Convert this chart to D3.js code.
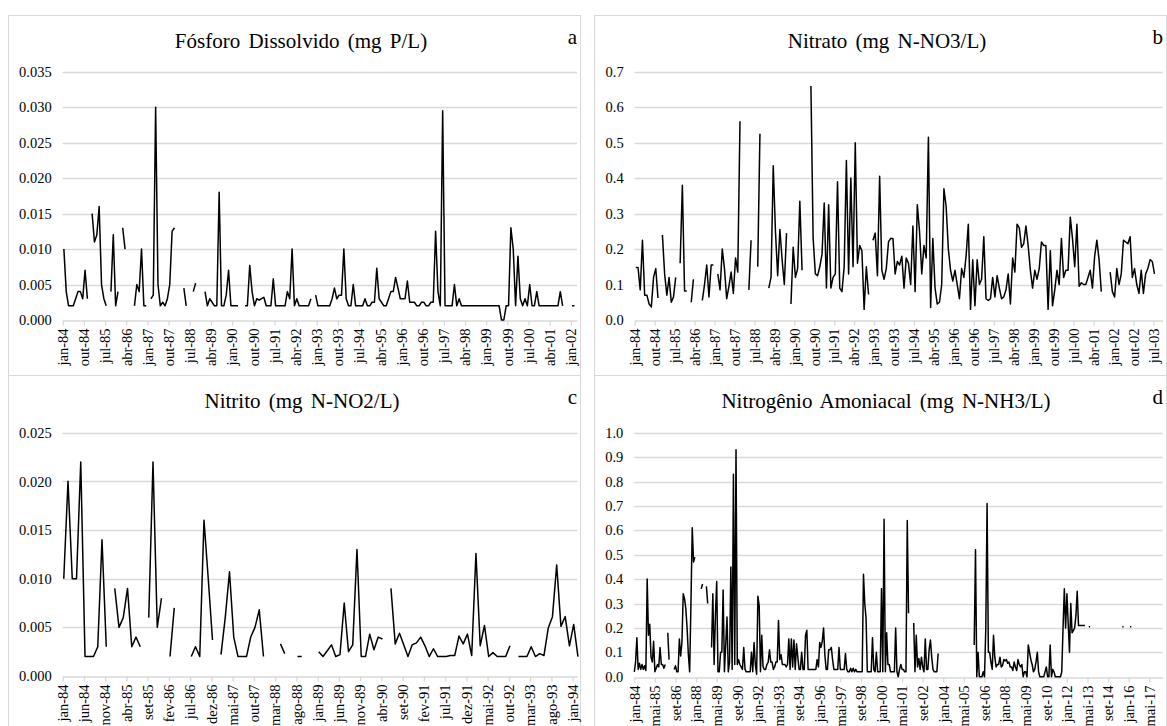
<!DOCTYPE html>
<html lang="pt">
<head>
<meta charset="UTF-8">
<title>Fósforo e Nitrogênio</title>
<script src="https://d3js.org/d3.v7.min.js"></script>
<style>
  body { margin: 0; background: #fff; }
  svg { display: block; }
  svg text { font-family: "Liberation Serif", "Times New Roman", serif; }
</style>
</head>
<body>
<svg width="1167" height="726"></svg>
<script>
// monthly values starting jan-84, null = no sample
const fosforo = [
  0.010,0.004,0.002,0.002,0.002,0.003,0.004,0.004,0.003,0.007,
  0.003,null,0.015,0.011,0.012,0.016,0.005,0.003,0.002,null,
  0.004,0.012,0.002,0.004,null,0.013,0.010,null,null,null,
  0.002,0.005,0.004,0.010,0.002,0.002,null,0.003,0.0035,0.030,
  0.005,0.002,0.0025,0.002,0.003,0.005,0.0125,0.013,null,null,
  null,0.0045,0.002,null,null,0.004,0.0052,null,null,null,
  0.004,0.002,0.003,0.0025,0.002,0.002,0.018,0.002,0.002,0.0035,
  0.007,0.002,0.002,0.002,0.002,null,null,0.002,0.002,0.0077,
  0.004,0.002,0.003,0.0028,0.003,0.0032,0.002,0.002,0.002,0.0058,
  0.002,0.002,0.002,0.002,0.002,0.004,0.003,0.010,0.002,0.003,
  0.002,0.002,0.002,0.002,0.002,0.003,null,0.0035,0.002,0.002,
  0.002,0.002,0.002,0.002,0.003,0.0045,0.003,0.0035,0.0035,0.010,
  0.003,0.002,0.002,0.005,0.002,0.002,0.002,0.002,0.003,0.002,
  0.002,0.0025,0.0025,0.0073,0.003,0.0025,0.002,0.002,0.003,0.004,
  0.004,0.006,0.0045,0.003,0.003,0.003,0.0055,0.0025,0.0025,0.0025,
  0.002,0.002,0.0025,0.0025,0.002,0.002,0.0025,0.0025,0.0125,0.004,
  0.002,0.0295,0.002,0.002,0.002,0.002,0.005,0.002,0.003,0.002,
  0.002,0.002,0.002,0.002,0.002,0.002,0.002,0.002,0.002,0.002,
  0.002,0.002,0.002,0.002,0.002,0.002,0,0,0.002,0.002,
  0.013,0.010,0.002,0.009,0.003,0.002,0.003,0.002,0.005,0.002,
  0.002,0.004,0.002,0.002,0.002,0.002,0.002,0.002,0.002,0.002,
  0.002,0.004,0.002,null,null,null,0.002,0.002
];

const nitrato = [
  0.148,0.148,0.085,0.225,0.07,0.07,0.045,0.037,0.12,0.145,
  0.062,null,0.24,0.13,0.07,0.12,0.05,0.065,0.12,null,
  0.16,0.38,0.082,0.082,null,0.05,0.115,null,null,null,
  0.055,0.1,0.155,0.065,0.155,0.155,null,0.13,0.085,0.2,
  0.145,0.06,0.095,0.135,0.075,0.175,0.135,0.56,null,null,
  null,0.085,0.225,null,null,0.15,0.525,null,null,null,
  0.09,0.12,0.435,0.25,0.125,0.255,0.17,0.1,0.245,null,
  0.045,0.205,0.12,0.145,0.335,0.14,null,null,null,0.66,
  0.23,0.13,0.125,0.15,0.185,0.33,0.09,0.325,0.09,0.12,
  0.13,0.39,0.09,0.08,0.15,0.45,0.13,0.4,0.15,0.5,
  0.16,0.21,0.195,0.03,0.15,0.072,null,0.225,0.245,0.125,
  0.405,0.14,0.115,0.145,0.22,0.23,0.23,0.13,0.165,0.155,
  0.18,0.09,0.175,0.16,0.1,0.265,0.08,0.325,0.25,0.13,
  0.21,0.175,0.515,0.035,0.23,0.09,0.045,0.05,0.1,0.37,
  0.32,0.2,0.14,0.11,0.14,0.1,0.06,0.145,0.12,0.18,
  0.27,0.03,0.17,0.04,0.17,0.1,0.115,0.235,0.06,0.055,
  0.06,0.12,0.065,0.125,0.09,0.06,0.065,0.085,0.13,0.045,
  0.175,0.135,0.27,0.26,0.205,0.215,0.265,0.21,0.14,0.09,
  0.14,0.115,0.145,0.22,0.21,0.21,0.03,0.195,0.04,0.085,
  0.14,0.1,0.23,0.12,0.14,0.14,0.29,0.23,0.15,0.27,
  0.095,0.105,0.1,0.1,0.12,0.14,0.09,0.18,0.225,0.17,
  0.08,null,null,null,0.135,0.08,0.065,0.145,0.1,0.13,
  0.225,0.22,0.215,0.235,0.12,0.145,0.1,0.075,0.14,0.075,
  0.13,0.145,0.17,0.165,0.13
];

const nitrito = [
  0.010,0.020,0.010,0.010,0.022,0.002,0.002,0.002,0.003,0.014,
  0.003,null,0.009,0.005,0.006,0.009,0.003,0.004,0.003,null,
  0.006,0.022,0.005,0.008,null,0.002,0.007,null,null,null,
  0.002,0.003,0.002,0.016,0.010,0.0037,null,0.0022,0.006,0.0107,
  0.004,0.002,0.002,0.002,0.004,0.005,0.0068,0.002,null,null,
  null,0.0033,0.0023,null,null,0.002,0.002,null,null,null,
  0.0025,0.002,0.0026,0.0032,0.002,0.0022,0.0075,0.0025,0.0032,0.013,
  0.002,0.002,0.0043,0.0027,0.004,0.0038,null,0.009,0.0033,0.0044,
  0.0032,0.002,0.0032,0.0034,0.004,0.0031,0.002,0.0028,0.002,0.002,
  0.002,0.0021,0.0021,0.0041,0.0033,0.0043,0.0021,0.0126,0.0031,0.0052,
  0.002,0.0024,0.002,0.002,0.002,0.0031,null,0.002,0.002,0.002,
  0.003,0.002,0.0023,0.0021,0.0049,0.0061,0.0114,0.0051,0.0061,0.0031,
  0.0053,0.002
];

const amoniacal = [
  0.02,0.06,0.16,0.03,0.055,0.03,0.05,0.03,0.045,0.025,
  0.4,0.17,0.215,0.08,0.06,0.145,0.02,0.035,0.05,0.04,
  0.12,0.05,0.05,0.035,0.05,null,0.18,0.07,null,null,
  null,0.03,0.045,0.02,0.02,0.155,0.085,0.14,0.34,0.32,
  0.28,0.2,0.09,0.02,0.3,0.61,0.47,0.49,null,null,
  null,null,0.36,0.38,null,null,0.37,0.3,null,null,
  0.12,0.34,0.05,0.25,0.39,0.02,0.02,0.1,0.1,0.355,
  0.02,0.13,0.245,0.02,0.06,0.45,0.03,0.83,0.05,0.93,
  0.05,0.07,0.05,0.04,0.03,0.12,0.03,0.02,0.02,0.02,
  0.02,0.1,0.02,0.14,0.05,0.01,0.33,0.29,0.02,0.17,
  0.04,0.03,0.03,0.05,0.06,0.11,0.06,0.06,0.03,0.04,
  0.06,0.06,0.23,0.07,0.09,0.05,0.05,0.05,0.04,0.05,
  0.155,0.03,0.155,0.04,0.15,0.03,0.135,0.08,0.03,0.03,
  0.1,0.03,0.03,0.17,0.19,0.03,0.03,0.03,0.03,0.03,
  0.03,0.03,0.07,0.04,0.14,0.12,0.145,0.2,0.09,0.03,
  0.03,0.11,0.11,0.12,0.07,0.03,0.03,0.03,0.03,0.12,
  0.03,0.03,0.03,0.03,0.095,0.03,0.02,0.02,0.035,0.02,
  0.035,0.02,0.03,0.02,0.02,0.02,0.02,0.02,0.42,0.3,
  0.24,0.02,0.02,0.02,0.02,0.16,0.03,0.02,0.1,0.02,
  0.02,0.02,0.36,0.02,0.645,0.02,0.18,0.05,0.05,0.02,
  0.02,0.02,0.02,0.2,0.02,0,0.03,0.05,0.03,0.03,
  0.02,0.02,0.64,0.26,null,null,null,0.22,0.02,0.17,
  0.04,0.075,0.03,0.08,0.04,0.02,0.155,0.03,0.03,0.11,
  0.15,0.08,0.03,0.02,0.02,0.02,0.095,null,null,null,
  null,null,null,null,null,null,null,null,null,null,
  null,null,null,null,null,null,null,null,null,null,
  null,null,null,null,0.13,0.52,0,0.1,0,0,
  0,0.02,0,0.2,0.71,0.1,0.1,0.06,0.03,0.17,
  0.08,0.04,0.05,0.05,0.08,0.04,0.045,0.07,0.065,0.07,
  0.055,0.06,0.04,0.04,0.025,0.06,0.04,0.025,0.07,0.05,
  0.04,0.05,0,0.02,0.02,0,0.13,0.1,0.07,0.05,
  0.02,0.03,0.06,0.1,0.02,0,0,0,0,0.02,
  0.04,0,0,0.13,0,0.03,0.02,0,0,0,
  0,0,0.02,0.2,0.36,0.2,0.34,0.22,0.1,0.3,
  0.18,0.19,0.2,0.25,0.35,0.21,0.21,0.21,0.21,0.21,
  0.21,null,null,0.205,0.205,null,null,null,null,null,
  null,null,null,null,null,null,null,null,null,null,
  null,null,null,null,null,null,null,null,null,0.205,
  0.205,null,null,null,null,0.205,0.205
];

// tick labels (one every 9, 9, 5 and 16 months)
const ticksFosforo = ["jan-84","out-84","jul-85","abr-86","jan-87","out-87","jul-88","abr-89","jan-90","out-90","jul-91","abr-92","jan-93","out-93","jul-94","abr-95","jan-96","out-96","jul-97","abr-98","jan-99","out-99","jul-00","abr-01","jan-02"];
const ticksNitrato = ["jan-84","out-84","jul-85","abr-86","jan-87","out-87","jul-88","abr-89","jan-90","out-90","jul-91","abr-92","jan-93","out-93","jul-94","abr-95","jan-96","out-96","jul-97","abr-98","jan-99","out-99","jul-00","abr-01","jan-02","out-02","jul-03"];
const ticksNitrito = ["jan-84","jun-84","nov-84","abr-85","set-85","fev-86","jul-86","dez-86","mai-87","out-87","mar-88","ago-88","jan-89","jun-89","nov-89","abr-90","set-90","fev-91","jul-91","dez-91","mai-92","out-92","mar-93","ago-93","jan-94"];
const ticksAmoniacal = ["jan-84","mai-85","set-86","jan-88","mai-89","set-90","jan-92","mai-93","set-94","jan-96","mai-97","set-98","jan-00","mai-01","set-02","jan-04","mai-05","set-06","jan-08","mai-09","set-10","jan-12","mai-13","set-14","jan-16","mai-17"];

const yFosforo = [0, 0.005, 0.010, 0.015, 0.020, 0.025, 0.030, 0.035];
const yNitrato = [0, 0.1, 0.2, 0.3, 0.4, 0.5, 0.6, 0.7];
const yNitrito = [0, 0.005, 0.010, 0.015, 0.020, 0.025];
const yAmoniacal = [0, 0.1, 0.2, 0.3, 0.4, 0.5, 0.6, 0.7, 0.8, 0.9, 1.0];

const panels = [
  { title: "Fósforo Dissolvido (mg P/L)", letter: "a", data: fosforo, xLabels: ticksFosforo, step: 9, yTicks: yFosforo, fmt: ".3f",
    box: [8, 15, 580, 375], left: 62.7, right: 577, top: 71.7, bottom: 320, xMax: 218.6, offset: 0.5, titleX: 301, titleY: 48, letterY: 44 },
  { title: "Nitrato (mg N-NO3/L)", letter: "b", data: nitrato, xLabels: ticksNitrato, step: 9, yTicks: yNitrato, fmt: ".1f",
    box: [594, 15, 1166, 375], left: 634.7, right: 1162.7, top: 71.7, bottom: 320, xMax: 238.2, offset: 0.5, titleX: 887, titleY: 48, letterY: 44 },
  { title: "Nitrito (mg N-NO2/L)", letter: "c", data: nitrito, xLabels: ticksNitrito, step: 5, yTicks: yNitrito, fmt: ".3f",
    box: [8, 375, 580, 730], left: 62.7, right: 577.3, top: 432.7, bottom: 676, xMax: 121.1, offset: 0.25, titleX: 302, titleY: 408, letterY: 404 },
  { title: "Nitrogênio Amoniacal (mg N-NH3/L)", letter: "d", data: amoniacal, xLabels: ticksAmoniacal, step: 16, yTicks: yAmoniacal, fmt: ".1f",
    box: [594, 375, 1166, 730], left: 634.3, right: 1162.7, top: 432.7, bottom: 676.7, xMax: 410.4, offset: 0, titleX: 886, titleY: 408, letterY: 404 }
];

const svg = d3.select("svg");
const grid = "#d9d9d9";
const serif = "'Liberation Serif', 'Times New Roman', serif";

panels.forEach(p => {
  const g = svg.append("g");
  const [x0, y0, x1, y1] = p.box;

  g.append("rect")
    .attr("x", x0 + 0.5).attr("y", y0 + 0.5)
    .attr("width", x1 - x0).attr("height", y1 - y0)
    .attr("fill", "#fff").attr("stroke", grid);

  const x = d3.scaleLinear().domain([0, p.xMax]).range([p.left, p.right]);
  const y = d3.scaleLinear().domain([0, d3.max(p.yTicks)]).range([p.bottom, p.top]);

  // horizontal gridlines
  g.selectAll(".grid").data(p.yTicks.slice(1)).join("line")
    .attr("x1", p.left).attr("x2", p.right)
    .attr("y1", d => Math.round(y(d)) + 0.5).attr("y2", d => Math.round(y(d)) + 0.5)
    .attr("stroke", grid).attr("stroke-width", 1.3);

  // y axis labels
  g.append("g")
    .attr("transform", `translate(${p.left},0)`)
    .call(d3.axisLeft(y).tickValues(p.yTicks).tickFormat(d3.format(p.fmt)).tickSize(0).tickPadding(11))
    .call(a => a.select(".domain").remove())
    .selectAll("text")
      .style("font-family", serif).style("font-size", "14.5px").attr("fill", "#000");

  // x axis with rotated labels
  const xa = g.append("g")
    .attr("transform", `translate(0,${Math.round(p.bottom) + 0.5})`)
    .call(d3.axisBottom(x)
      .tickValues(p.xLabels.map((_, i) => i * p.step))
      .tickFormat((d, i) => p.xLabels[i])
      .tickSizeInner(5).tickSizeOuter(0));
  xa.select(".domain").attr("stroke", grid).attr("stroke-width", 1.3);
  xa.selectAll(".tick line").attr("stroke", grid).attr("stroke-width", 1.3);
  xa.selectAll("text")
    .style("font-family", serif).style("font-size", "14.5px").attr("fill", "#000")
    .attr("transform", "rotate(-90)")
    .attr("text-anchor", "end")
    .attr("x", -8).attr("y", 0).attr("dy", "0.33em");

  // series line
  const line = d3.line()
    .defined(d => d != null)
    .x((d, i) => x(i + p.offset))
    .y(d => y(d));
  g.append("path")
    .datum(p.data)
    .attr("d", line)
    .attr("fill", "none")
    .attr("stroke", "#000")
    .attr("stroke-width", 1.5)
    .attr("stroke-linejoin", "round");

  g.append("text")
    .attr("x", p.titleX).attr("y", p.titleY)
    .attr("text-anchor", "middle")
    .style("font-size", "21px").attr("word-spacing", 3)
    .text(p.title);

  g.append("text")
    .attr("x", x1 - 3).attr("y", p.letterY)
    .attr("text-anchor", "end")
    .style("font-size", "21px")
    .text(p.letter);
});
</script>
</body>
</html>
